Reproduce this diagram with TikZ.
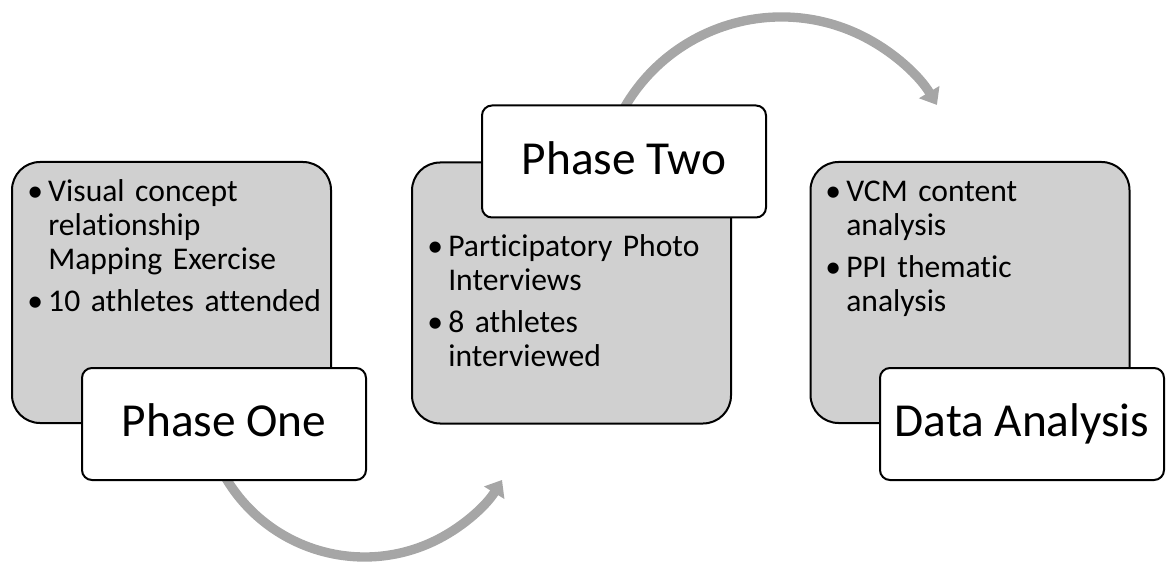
\documentclass[tikz,border=0pt]{standalone}
\usepackage{fontspec}
\setmainfont{Carlito}[Ligatures=NoCommon]
\usetikzlibrary{arrows.meta,backgrounds}
\definecolor{boxgray}{HTML}{D0D0D0}
\definecolor{arcgray}{HTML}{A6A6A6}
\newcommand{\bp}[1]{\noindent\hangindent=15.75pt\hangafter=1\makebox[15.75pt][l]{\textbullet}\rule{0pt}{20pt}#1\par}
\newcommand{\bodysetup}{\lineskiplimit=-50pt\parskip=6pt\raggedright\relax}
\begin{document}
\begin{tikzpicture}[x=0.75pt,y=-0.75pt,
  detail/.style={draw=black, line width=1.5pt, fill=boxgray, rounded corners=21pt,
    minimum width=239.25pt, minimum height=195.75pt, inner sep=0pt},
  title/.style={draw=black, line width=1.5pt, fill=white, rounded corners=7.5pt,
    minimum width=213pt, minimum height=84pt, inner sep=0pt,
    font=\fontsize{35.5pt}{40pt}\selectfont, text height=25pt, text depth=6pt},
  bodytext/.style={anchor=north west, inner sep=0pt, text width=300pt,
    font=\fontsize{23.7pt}{25.5pt}\selectfont},
  flow/.style={draw=arcgray, line width=7pt, -{Triangle[length=11.25pt,width=17.25pt]}}]
\useasboundingbox (0,0) rectangle (1168,563);
% detail boxes
\node[detail] (g1) at (171.5,292.5) {};
\node[detail] (g2) at (571.5,293) {};
\node[detail] (g3) at (970,292.5) {};
% body texts
\node[bodytext] (b1) at (27,174.3) {\bodysetup\bp{Visual concept\newline relationship\newline Mapping Exercise}\bp{10 athletes attended}};
\node[bodytext] (b2) at (427,229.3) {\bodysetup\bp{Participatory Photo\newline Interviews}\bp{8 athletes\newline interviewed}};
\node[bodytext] (b3) at (825,174.3) {\bodysetup\bp{VCM content\newline analysis}\bp{PPI thematic\newline analysis}};
% title boxes
\node[title] (w1) at (224,424) {Phase One};
\node[title] (w2) at (624,161.5) {Phase Two};
\node[title] (w3) at (1022,424) {Data Analysis};
% arcs
\coordinate (a1) at (221.3,469.9);
\coordinate (a2) at (620.4,114.9);
\begin{scope}[on background layer]
\draw[flow] (a1) arc[start angle=152.6, end angle=31.5, radius=161.3];
\draw[flow] (a2) arc[start angle=207.4, end angle=329, radius=181.4];
\end{scope}
\end{tikzpicture}
\end{document}
